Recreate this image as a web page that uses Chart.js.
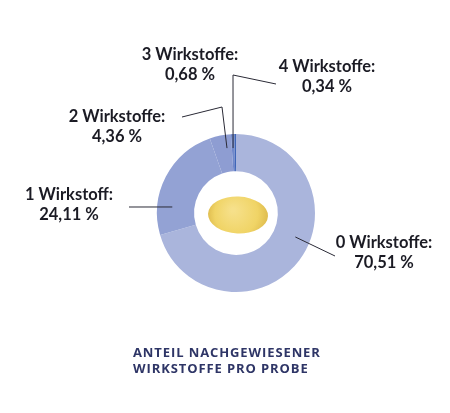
<!DOCTYPE html>
<html>
<head>
<meta charset="utf-8">
<script src="https://cdn.jsdelivr.net/npm/chart.js@4.4.1/dist/chart.umd.min.js"></script>
<style>
  html, body { margin: 0; padding: 0; background: #ffffff; }
  #wrap { position: relative; width: 450px; height: 413px; overflow: hidden; }
  #wrap canvas { position: absolute; left: 0; top: 0; }
  .lbl { position: absolute; width: 140px; text-align: center; font-family: Lato, "Open Sans", sans-serif;
         font-weight: 700; font-size: 16.5px; line-height: 20px; color: #1b1b24; white-space: nowrap; }
  #title { position: absolute; left: 133px; top: 344px; font-family: "Open Sans", Lato, sans-serif; font-weight: 700;
           font-size: 13px; line-height: 16px; letter-spacing: 0.9px; color: #2e3566; white-space: nowrap; }
</style>
</head>
<body>
<div id="wrap">
  <canvas id="c" width="450" height="413"></canvas>
  <div id="labels"></div>
  <div id="title"></div>
</div>
<script>
// ---- data ----
const categories = ["0 Wirkstoffe", "1 Wirkstoff", "2 Wirkstoffe", "3 Wirkstoffe", "4 Wirkstoffe"];
const shares = [70.51, 24.11, 4.36, 0.68, 0.34];
const valueLabels = ["70,51 %", "24,11 %", "4,36 %", "0,68 %", "0,34 %"];
const titleLines = ["ANTEIL NACHGEWIESENER", "WIRKSTOFFE PRO PROBE"];

// ---- styling / layout ----
const colors = ["#aab5dc", "#93a2d4", "#8e9dd2", "#7088ca", "#3f66b8"];
const labelPos = [ // center x, top y of label block
  [384, 232], [69, 184], [117, 106], [190, 44], [327, 56]
];
// leader lines: start given in polar (deg clockwise from top, radius) from chart center, then absolute points
const leaders = [
  { a: 112, r: 64, pts: [[335, 256]] },
  { a: 275.4, r: 64, pts: [[129, 207]] },
  { a: 352.1, r: 65.5, pts: [[222, 107], [182, 117]] },
  null,
  { a: 357.4, r: 65, pts: [[233, 75], [276, 84]] }
];

const labelsDiv = document.getElementById('labels');
categories.forEach((c, i) => {
  const d = document.createElement('div');
  d.className = 'lbl';
  d.style.left = (labelPos[i][0] - 70) + 'px';
  d.style.top = labelPos[i][1] + 'px';
  d.innerHTML = c + ':<br>' + valueLabels[i];
  labelsDiv.appendChild(d);
});
document.getElementById('title').innerHTML = titleLines.join('<br>');

const extras = {
  id: 'extras',
  afterDraw(chart) {
    const meta = chart.getDatasetMeta(0);
    const arc = meta.data[0];
    const cx = arc.x, cy = arc.y;
    const ctx = chart.ctx;
    ctx.save();
    // leader lines
    ctx.strokeStyle = '#2a2a36';
    ctx.lineWidth = 1;
    leaders.forEach(l => {
      if (!l) return;
      const t = l.a * Math.PI / 180;
      ctx.beginPath();
      ctx.moveTo(cx + l.r * Math.sin(t), cy - l.r * Math.cos(t));
      l.pts.forEach(p => ctx.lineTo(p[0], p[1]));
      ctx.stroke();
    });
    // potato in the hole
    const px = cx + 2, py = cy + 2;
    const g = ctx.createRadialGradient(px - 5, py - 5, 2, px, py, 32);
    g.addColorStop(0, '#f6e08a');
    g.addColorStop(0.65, '#f0d466');
    g.addColorStop(1, '#dcb84a');
    ctx.fillStyle = g;
    ctx.beginPath();
    ctx.ellipse(px, py, 30, 18.5, 0.04, 0, Math.PI * 2);
    ctx.fill();
    ctx.restore();
  }
};

new Chart(document.getElementById('c'), {
  type: 'doughnut',
  data: {
    labels: categories,
    datasets: [{ data: shares, backgroundColor: colors, borderWidth: 0, hoverOffset: 0 }]
  },
  options: {
    responsive: false,
    animation: false,
    cutout: '53%',
    rotation: 0,
    layout: { padding: { left: 157, right: 135, top: 134, bottom: 121 } },
    plugins: { legend: { display: false }, tooltip: { enabled: false } }
  },
  plugins: [extras]
});
</script>
</body>
</html>
